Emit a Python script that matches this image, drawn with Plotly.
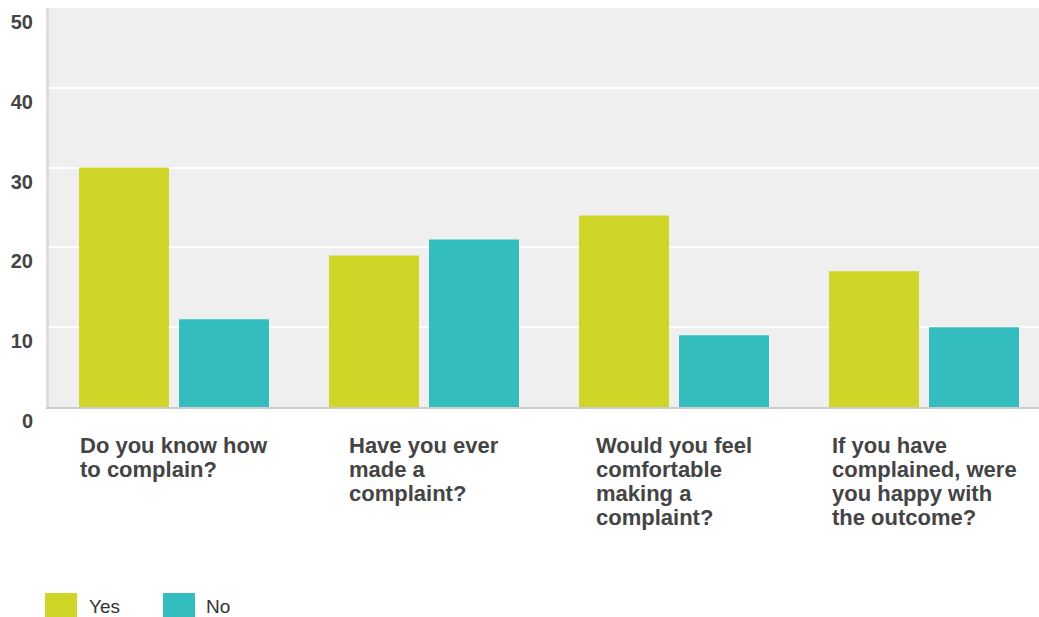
import plotly.graph_objects as go

# Survey questions (each line of the wrapped label)
question_lines = [
    ["Do you know how", "to complain?"],
    ["Have you ever", "made a", "complaint?"],
    ["Would you feel", "comfortable", "making a", "complaint?"],
    ["If you have", "complained, were", "you happy with", "the outcome?"],
]
series_names = ["Yes", "No"]
yes_counts = [30, 19, 24, 17]
no_counts = [11, 21, 9, 10]
series_colors = ["#cfd628", "#33bdbf"]
y_ticks = [0, 10, 20, 30, 40, 50]

W, H = 1039, 617
M_L, M_R, M_T, M_B = 49, 0, 7.5, 209.5
plot_w = W - M_L - M_R
plot_h = H - M_T - M_B
cat_px = 250  # pixel width of one category slot

x_idx = list(range(len(question_lines)))

fig = go.Figure()
for name, vals, col in zip(series_names, [yes_counts, no_counts], series_colors):
    fig.add_trace(go.Bar(x=x_idx, y=vals, name=name, marker=dict(color=col, line=dict(width=0)),
                         showlegend=False))

# category labels: left-aligned blocks centred under each group
for i, lines in enumerate(question_lines):
    txt = "<br>".join(f'<span style="font-size:22px">{ln}</span>' for ln in lines)
    fig.add_annotation(x=i, xref="x", y=0, yref="paper", yanchor="top", yshift=-24,
                       text=txt, align="left", showarrow=False,
                       font=dict(family="Liberation Sans, Arial", size=18.5, color="#444444", weight="bold"))

# legend drawn as swatches + labels
def px_x(p):
    return (p - M_L) / plot_w

def px_y(p):
    return (H - M_B - p) / plot_h

legend_items = [(45, 87), (163, 204)]
for (sx, tx), name, col in zip(legend_items, series_names, series_colors):
    fig.add_shape(type="rect", xref="paper", yref="paper",
                  x0=px_x(sx), x1=px_x(sx + 32), y0=px_y(594), y1=px_y(620),
                  fillcolor=col, line=dict(width=0), layer="above")
    fig.add_annotation(x=px_x(tx), y=px_y(607), xref="paper", yref="paper",
                       xanchor="left", yanchor="middle", text=name, showarrow=False,
                       font=dict(family="Liberation Sans, Arial", size=19, color="#333333"))

fig.update_layout(
    width=W, height=H,
    margin=dict(l=M_L, r=M_R, t=M_T, b=M_B, pad=0),
    paper_bgcolor="white", plot_bgcolor="#efefef",
    barmode="group", bargap=0.2, bargroupgap=0.1,
    xaxis=dict(range=[-0.5, -0.5 + plot_w / cat_px], showticklabels=False, showgrid=False,
               zeroline=False, showline=True, linecolor="#cccccc", linewidth=2, ticks=""),
    yaxis=dict(range=[0, 50], tickvals=y_ticks, showgrid=True, gridcolor="white", gridwidth=2,
               zeroline=False, showline=True, linecolor="#dddddd", linewidth=3,
               ticklabelposition="outside bottom", ticklabelstandoff=9,
               tickfont=dict(family="Liberation Sans, Arial", size=20, color="#444444", weight="bold")),
    font=dict(family="Liberation Sans, Arial"),
)

fig.write_html("out.html")
